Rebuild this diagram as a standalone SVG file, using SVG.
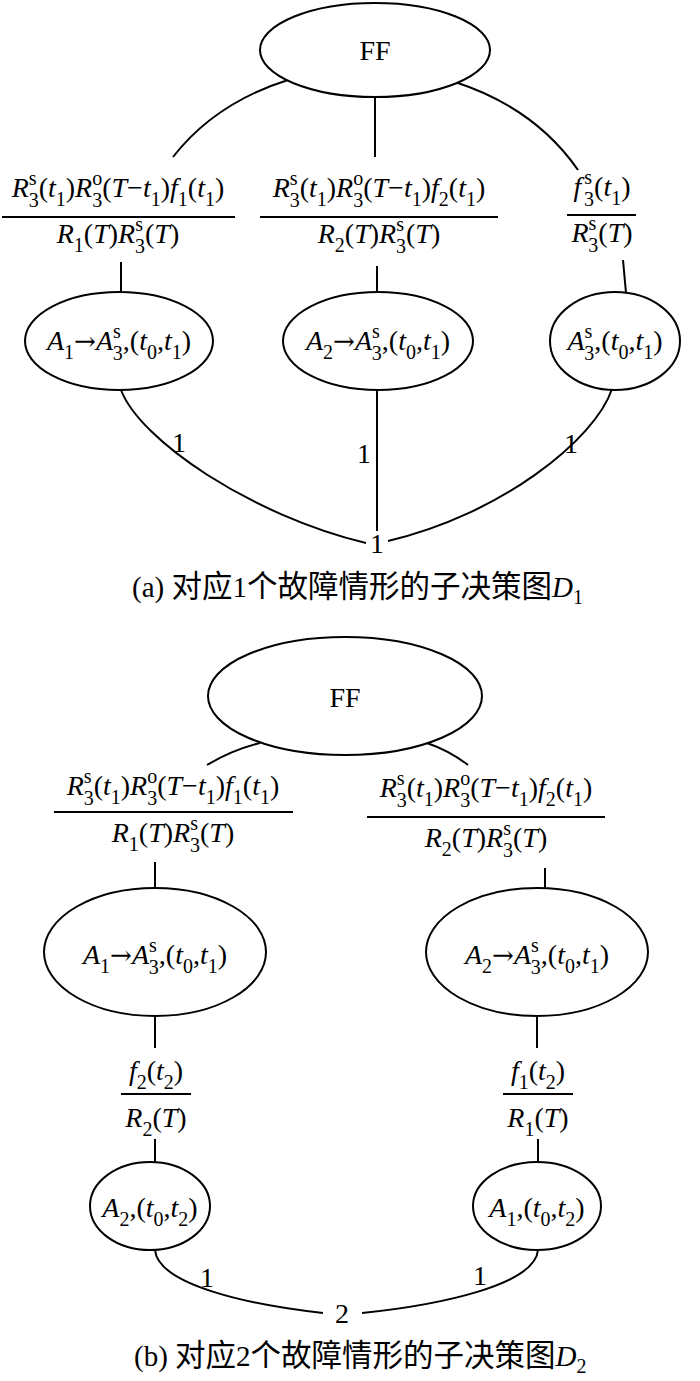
<svg xmlns="http://www.w3.org/2000/svg" width="700" height="1381" viewBox="0 0 700 1381">
<style>
.m{font-family:"Liberation Serif","Times New Roman",serif;font-size:28px;fill:#000}
.i{font-style:italic}
.s{font-size:20px}
.ar{font-family:"DejaVu Serif",serif;font-size:26px}
.c{font-family:"Liberation Serif","Noto Sans CJK SC",serif;font-size:29px;fill:#000}
.cj{font-family:"Noto Sans CJK SC",sans-serif;font-size:30.5px}
.n{fill:none;stroke:#000;stroke-width:2}
.e{fill:#fff;stroke:#000;stroke-width:2}
</style>
<rect width="700" height="1381" fill="#fff"/>
<g id="connectors" class="n">
<path d="M288,80 Q215,103 173,157"/>
<path d="M375,97 L375,157"/>
<path d="M455,82 Q535,108 578,170"/>
<path d="M2,217 L235,217"/>
<path d="M260,217 L498,217"/>
<path d="M567,215 L636,215"/>
<path d="M121,262 L121,292"/>
<path d="M377,266 L377,292"/>
<path d="M623,260 L626,293"/>
<path d="M121,390 C140,440 250,515 366,543"/>
<path d="M377,390 L377,531"/>
<path d="M612,389 C595,440 500,515 388,541"/>
<path d="M260,743 Q232,750 207,765"/>
<path d="M427,743 Q450,751 468,765"/>
<path d="M54,812 L293,812"/>
<path d="M367,817 L605,817"/>
<path d="M155,862 L155,889"/>
<path d="M545,868 L545,890"/>
<path d="M155,1016 L155,1048"/>
<path d="M537,1016 L537,1048"/>
<path d="M121,1094 L191,1094"/>
<path d="M503,1094 L573,1094"/>
<path d="M155,1139 L155,1163"/>
<path d="M538,1139 L538,1163"/>
<path d="M155,1250 C158,1285 250,1305 323,1313"/>
<path d="M538,1250 C535,1285 440,1305 362,1313"/>
</g>
<g id="ff1"><ellipse class="e" cx="375" cy="50" rx="115" ry="47"/><text class="m" x="375" y="60" text-anchor="middle">FF</text></g>
<g id="label-a1"><text class="m" x="118" y="197" text-anchor="middle"><tspan class="i">R</tspan><tspan class="s" dy="-12">s</tspan><tspan class="s" dx="-8" dy="22">3</tspan><tspan dy="-10">(</tspan><tspan class="i">t</tspan><tspan class="s" dy="9">1</tspan><tspan dy="-9">)</tspan><tspan class="i">R</tspan><tspan class="s" dy="-12">o</tspan><tspan class="s" dx="-10" dy="22">3</tspan><tspan dy="-10">(</tspan><tspan class="i">T</tspan><tspan>−</tspan><tspan class="i">t</tspan><tspan class="s" dy="9">1</tspan><tspan dy="-9">)</tspan><tspan class="i">f</tspan><tspan class="s" dy="9">1</tspan><tspan dy="-9">(</tspan><tspan class="i">t</tspan><tspan class="s" dy="9">1</tspan><tspan dy="-9">)</tspan></text>
<text class="m" x="118" y="243" text-anchor="middle"><tspan class="i">R</tspan><tspan class="s" dy="9">1</tspan><tspan dy="-9">(</tspan><tspan class="i">T</tspan><tspan>)</tspan><tspan class="i">R</tspan><tspan class="s" dy="-12">s</tspan><tspan class="s" dx="-8" dy="22">3</tspan><tspan dy="-10">(</tspan><tspan class="i">T</tspan><tspan>)</tspan></text></g>
<g id="label-a2"><text class="m" x="379" y="197" text-anchor="middle"><tspan class="i">R</tspan><tspan class="s" dy="-12">s</tspan><tspan class="s" dx="-8" dy="22">3</tspan><tspan dy="-10">(</tspan><tspan class="i">t</tspan><tspan class="s" dy="9">1</tspan><tspan dy="-9">)</tspan><tspan class="i">R</tspan><tspan class="s" dy="-12">o</tspan><tspan class="s" dx="-10" dy="22">3</tspan><tspan dy="-10">(</tspan><tspan class="i">T</tspan><tspan>−</tspan><tspan class="i">t</tspan><tspan class="s" dy="9">1</tspan><tspan dy="-9">)</tspan><tspan class="i">f</tspan><tspan class="s" dy="9">2</tspan><tspan dy="-9">(</tspan><tspan class="i">t</tspan><tspan class="s" dy="9">1</tspan><tspan dy="-9">)</tspan></text>
<text class="m" x="379" y="243" text-anchor="middle"><tspan class="i">R</tspan><tspan class="s" dy="9">2</tspan><tspan dy="-9">(</tspan><tspan class="i">T</tspan><tspan>)</tspan><tspan class="i">R</tspan><tspan class="s" dy="-12">s</tspan><tspan class="s" dx="-8" dy="22">3</tspan><tspan dy="-10">(</tspan><tspan class="i">T</tspan><tspan>)</tspan></text></g>
<g id="label-a3"><text class="m" x="602" y="196" text-anchor="middle"><tspan class="i">f</tspan><tspan class="s" dx="3" dy="-12">s</tspan><tspan class="s" dx="-8" dy="22">3</tspan><tspan dy="-10">(</tspan><tspan class="i">t</tspan><tspan class="s" dy="9">1</tspan><tspan dy="-9">)</tspan></text>
<text class="m" x="602" y="242" text-anchor="middle"><tspan class="i">R</tspan><tspan class="s" dy="-12">s</tspan><tspan class="s" dx="-8" dy="22">3</tspan><tspan dy="-10">(</tspan><tspan class="i">T</tspan><tspan>)</tspan></text></g>
<g id="node-a1"><ellipse class="e" cx="119" cy="341" rx="94" ry="49"/><text class="m" x="119" y="350" text-anchor="middle"><tspan class="i">A</tspan><tspan class="s" dy="9">1</tspan><tspan class="ar" dy="-9">→</tspan><tspan class="i">A</tspan><tspan class="s" dy="-12">s</tspan><tspan class="s" dx="-8" dy="22">3</tspan><tspan dy="-10">,(</tspan><tspan class="i">t</tspan><tspan class="s" dy="9">0</tspan><tspan dy="-9">,</tspan><tspan class="i">t</tspan><tspan class="s" dy="9">1</tspan><tspan dy="-9">)</tspan></text></g>
<g id="node-a2"><ellipse class="e" cx="378" cy="341" rx="95" ry="49"/><text class="m" x="378" y="350" text-anchor="middle"><tspan class="i">A</tspan><tspan class="s" dy="9">2</tspan><tspan class="ar" dy="-9">→</tspan><tspan class="i">A</tspan><tspan class="s" dy="-12">s</tspan><tspan class="s" dx="-8" dy="22">3</tspan><tspan dy="-10">,(</tspan><tspan class="i">t</tspan><tspan class="s" dy="9">0</tspan><tspan dy="-9">,</tspan><tspan class="i">t</tspan><tspan class="s" dy="9">1</tspan><tspan dy="-9">)</tspan></text></g>
<g id="node-a3"><ellipse class="e" cx="615" cy="341" rx="65" ry="49"/><text class="m" x="615" y="350" text-anchor="middle"><tspan class="i">A</tspan><tspan class="s" dy="-12">s</tspan><tspan class="s" dx="-8" dy="22">3</tspan><tspan dy="-10">,(</tspan><tspan class="i">t</tspan><tspan class="s" dy="9">0</tspan><tspan dy="-9">,</tspan><tspan class="i">t</tspan><tspan class="s" dy="9">1</tspan><tspan dy="-9">)</tspan></text></g>
<g id="edge-labels-a" class="m" text-anchor="middle"><text x="179" y="452">1</text><text x="364" y="463">1</text><text x="571" y="453">1</text><text x="377" y="553">1</text></g>
<g id="caption-a"><text class="c" x="132" y="597">(a) <tspan class="cj">对应</tspan>1<tspan class="cj">个故障情形的子决策图</tspan><tspan class="i">D</tspan><tspan class="s" dy="7">1</tspan></text></g>
<g id="ff2"><ellipse class="e" cx="345" cy="696" rx="137" ry="59"/><text class="m" x="345" y="707" text-anchor="middle">FF</text></g>
<g id="label-b1"><text class="m" x="173" y="795" text-anchor="middle"><tspan class="i">R</tspan><tspan class="s" dy="-12">s</tspan><tspan class="s" dx="-8" dy="22">3</tspan><tspan dy="-10">(</tspan><tspan class="i">t</tspan><tspan class="s" dy="9">1</tspan><tspan dy="-9">)</tspan><tspan class="i">R</tspan><tspan class="s" dy="-12">o</tspan><tspan class="s" dx="-10" dy="22">3</tspan><tspan dy="-10">(</tspan><tspan class="i">T</tspan><tspan>−</tspan><tspan class="i">t</tspan><tspan class="s" dy="9">1</tspan><tspan dy="-9">)</tspan><tspan class="i">f</tspan><tspan class="s" dy="9">1</tspan><tspan dy="-9">(</tspan><tspan class="i">t</tspan><tspan class="s" dy="9">1</tspan><tspan dy="-9">)</tspan></text>
<text class="m" x="173" y="842" text-anchor="middle"><tspan class="i">R</tspan><tspan class="s" dy="9">1</tspan><tspan dy="-9">(</tspan><tspan class="i">T</tspan><tspan>)</tspan><tspan class="i">R</tspan><tspan class="s" dy="-12">s</tspan><tspan class="s" dx="-8" dy="22">3</tspan><tspan dy="-10">(</tspan><tspan class="i">T</tspan><tspan>)</tspan></text></g>
<g id="label-b2"><text class="m" x="486" y="797" text-anchor="middle"><tspan class="i">R</tspan><tspan class="s" dy="-12">s</tspan><tspan class="s" dx="-8" dy="22">3</tspan><tspan dy="-10">(</tspan><tspan class="i">t</tspan><tspan class="s" dy="9">1</tspan><tspan dy="-9">)</tspan><tspan class="i">R</tspan><tspan class="s" dy="-12">o</tspan><tspan class="s" dx="-10" dy="22">3</tspan><tspan dy="-10">(</tspan><tspan class="i">T</tspan><tspan>−</tspan><tspan class="i">t</tspan><tspan class="s" dy="9">1</tspan><tspan dy="-9">)</tspan><tspan class="i">f</tspan><tspan class="s" dy="9">2</tspan><tspan dy="-9">(</tspan><tspan class="i">t</tspan><tspan class="s" dy="9">1</tspan><tspan dy="-9">)</tspan></text>
<text class="m" x="486" y="847" text-anchor="middle"><tspan class="i">R</tspan><tspan class="s" dy="9">2</tspan><tspan dy="-9">(</tspan><tspan class="i">T</tspan><tspan>)</tspan><tspan class="i">R</tspan><tspan class="s" dy="-12">s</tspan><tspan class="s" dx="-8" dy="22">3</tspan><tspan dy="-10">(</tspan><tspan class="i">T</tspan><tspan>)</tspan></text></g>
<g id="node-b1"><ellipse class="e" cx="155" cy="952" rx="111" ry="64"/><text class="m" x="155" y="964" text-anchor="middle"><tspan class="i">A</tspan><tspan class="s" dy="9">1</tspan><tspan class="ar" dy="-9">→</tspan><tspan class="i">A</tspan><tspan class="s" dy="-12">s</tspan><tspan class="s" dx="-8" dy="22">3</tspan><tspan dy="-10">,(</tspan><tspan class="i">t</tspan><tspan class="s" dy="9">0</tspan><tspan dy="-9">,</tspan><tspan class="i">t</tspan><tspan class="s" dy="9">1</tspan><tspan dy="-9">)</tspan></text></g>
<g id="node-b2"><ellipse class="e" cx="537" cy="952" rx="111" ry="64"/><text class="m" x="537" y="964" text-anchor="middle"><tspan class="i">A</tspan><tspan class="s" dy="9">2</tspan><tspan class="ar" dy="-9">→</tspan><tspan class="i">A</tspan><tspan class="s" dy="-12">s</tspan><tspan class="s" dx="-8" dy="22">3</tspan><tspan dy="-10">,(</tspan><tspan class="i">t</tspan><tspan class="s" dy="9">0</tspan><tspan dy="-9">,</tspan><tspan class="i">t</tspan><tspan class="s" dy="9">1</tspan><tspan dy="-9">)</tspan></text></g>
<g id="label-b3"><text class="m" x="156" y="1080" text-anchor="middle"><tspan class="i">f</tspan><tspan class="s" dy="9">2</tspan><tspan dy="-9">(</tspan><tspan class="i">t</tspan><tspan class="s" dy="9">2</tspan><tspan dy="-9">)</tspan></text>
<text class="m" x="156" y="1127" text-anchor="middle"><tspan class="i">R</tspan><tspan class="s" dy="9">2</tspan><tspan dy="-9">(</tspan><tspan class="i">T</tspan><tspan>)</tspan></text></g>
<g id="label-b4"><text class="m" x="538" y="1080" text-anchor="middle"><tspan class="i">f</tspan><tspan class="s" dy="9">1</tspan><tspan dy="-9">(</tspan><tspan class="i">t</tspan><tspan class="s" dy="9">2</tspan><tspan dy="-9">)</tspan></text>
<text class="m" x="538" y="1127" text-anchor="middle"><tspan class="i">R</tspan><tspan class="s" dy="9">1</tspan><tspan dy="-9">(</tspan><tspan class="i">T</tspan><tspan>)</tspan></text></g>
<g id="node-b3"><ellipse class="e" cx="150" cy="1206" rx="60" ry="44"/><text class="m" x="150" y="1217" text-anchor="middle"><tspan class="i">A</tspan><tspan class="s" dy="9">2</tspan><tspan dy="-9">,(</tspan><tspan class="i">t</tspan><tspan class="s" dy="9">0</tspan><tspan dy="-9">,</tspan><tspan class="i">t</tspan><tspan class="s" dy="9">2</tspan><tspan dy="-9">)</tspan></text></g>
<g id="node-b4"><ellipse class="e" cx="537" cy="1206" rx="64" ry="44"/><text class="m" x="537" y="1217" text-anchor="middle"><tspan class="i">A</tspan><tspan class="s" dy="9">1</tspan><tspan dy="-9">,(</tspan><tspan class="i">t</tspan><tspan class="s" dy="9">0</tspan><tspan dy="-9">,</tspan><tspan class="i">t</tspan><tspan class="s" dy="9">2</tspan><tspan dy="-9">)</tspan></text></g>
<g id="edge-labels-b" class="m" text-anchor="middle"><text x="207" y="1287">1</text><text x="342" y="1323">2</text><text x="480" y="1285">1</text></g>
<g id="caption-b"><text class="c" x="134" y="1366">(b) <tspan class="cj">对应</tspan>2<tspan class="cj">个故障情形的子决策图</tspan><tspan class="i">D</tspan><tspan class="s" dy="7">2</tspan></text></g>
</svg>
